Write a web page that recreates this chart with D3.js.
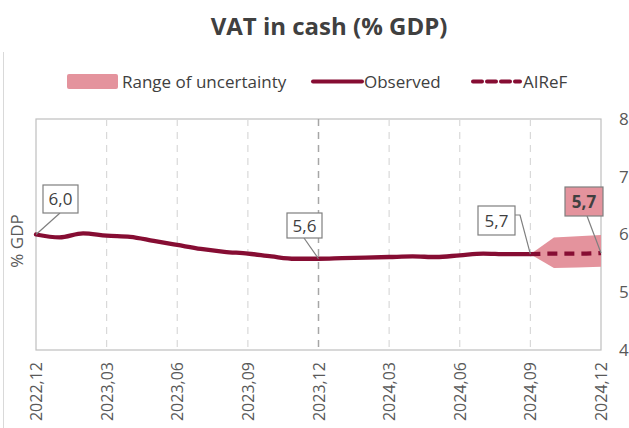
<!DOCTYPE html>
<html><head><meta charset="utf-8">
<script src="https://cdn.jsdelivr.net/npm/d3@7"></script>
<style>body{margin:0;background:#fff;}svg{display:block;font-family:"Open Sans",Lato,sans-serif;}</style>
</head><body>
<svg id="c" width="629" height="428"></svg>
<script>
const months = ["2022,12","2023,01","2023,02","2023,03","2023,04","2023,05","2023,06","2023,07","2023,08","2023,09","2023,10","2023,11","2023,12","2024,01","2024,02","2024,03","2024,04","2024,05","2024,06","2024,07","2024,08","2024,09","2024,10","2024,11","2024,12"];
const tickLabels = ["2022,12","2023,03","2023,06","2023,09","2023,12","2024,03","2024,06","2024,09","2024,12"];
const observed = [6.00,5.95,6.02,5.98,5.96,5.89,5.82,5.75,5.70,5.67,5.62,5.58,5.58,5.59,5.60,5.61,5.62,5.61,5.64,5.67,5.66,5.66];
const forecastMonths = ["2024,09","2024,10","2024,11","2024,12"];
const forecast = [5.66,5.67,5.67,5.68];
const bandLow = [5.66,5.42,5.43,5.44];
const bandHigh = [5.66,5.95,5.97,5.99];
const yTicks = [4,5,6,7,8];
const labels = [
  {m:"2022,12", v:6.00, text:"6,0"},
  {m:"2023,12", v:5.58, text:"5,6"},
  {m:"2024,09", v:5.66, text:"5,7"},
  {m:"2024,12", v:5.68, text:"5,7", forecast:true}
];

const FONT = "'Open Sans',Lato,sans-serif";
const svg = d3.select("#c");
const L=36, R=601, T=119, B=350;
const x = d3.scalePoint().domain(months).range([L,R]);
const y = d3.scaleLinear().domain([4,8]).range([B,T]);
const textCol="#404040", axisCol="#595959";
const lineCol="#860D33", bandCol="#E4939D";

svg.append("line").attr("x1",3.5).attr("x2",3.5).attr("y1",52).attr("y2",428).attr("stroke","#D9D9D9");

svg.append("text").attr("x",329).attr("y",35).attr("text-anchor","middle")
  .attr("font-size",24).attr("font-weight","bold").attr("fill",textCol).text("VAT in cash (% GDP)");

const lg = svg.append("g");
lg.append("rect").attr("x",67).attr("y",74).attr("width",51).attr("height",15).attr("rx",2).attr("fill",bandCol);
lg.append("text").attr("x",122).attr("y",88).attr("font-size",17).attr("fill",textCol).text("Range of uncertainty");
lg.append("line").attr("x1",313).attr("x2",362).attr("y1",81.5).attr("y2",81.5).attr("stroke",lineCol).attr("stroke-width",4).attr("stroke-linecap","round");
lg.append("text").attr("x",364).attr("y",88).attr("font-size",17).attr("fill",textCol).text("Observed");
lg.append("line").attr("x1",473).attr("x2",520).attr("y1",81.5).attr("y2",81.5).attr("stroke",lineCol).attr("stroke-width",4).attr("stroke-dasharray","9,5").attr("stroke-linecap","round");
lg.append("text").attr("x",523).attr("y",88).attr("font-size",17).attr("fill",textCol).text("AIReF");

svg.append("rect").attr("x",L).attr("y",T).attr("width",R-L).attr("height",B-T).attr("fill","none").attr("stroke","#BFBFBF").attr("stroke-width",1.2);

tickLabels.slice(1,-1).forEach(t=>{
  svg.append("line").attr("x1",x(t)).attr("x2",x(t)).attr("y1",T).attr("y2",B)
    .attr("stroke", t==="2023,12" ? "#A6A6A6" : "#D9D9D9").attr("stroke-width", t==="2023,12"?1.5:1.2)
    .attr("stroke-dasharray","7,6");
});

const xa = svg.append("g").attr("transform",`translate(0,${B})`)
  .call(d3.axisBottom(x).tickValues(tickLabels).tickSize(0).tickPadding(0));
xa.select(".domain").remove();
xa.selectAll("text").attr("font-size",16).attr("fill",axisCol).attr("font-family",FONT)
  .attr("transform","rotate(-90)").attr("text-anchor","end").attr("dy","0.35em").attr("x",-12).attr("y",0);

const ya = svg.append("g").attr("transform",`translate(${R},0)`)
  .call(d3.axisRight(y).tickValues(yTicks).tickSize(0).tickPadding(18).tickFormat(d3.format("d")));
ya.select(".domain").remove();
ya.selectAll("text").attr("font-size",17).attr("fill",axisCol).attr("font-family",FONT);

svg.append("text").attr("transform","translate(23,241) rotate(-90)").attr("text-anchor","middle")
  .attr("font-size",17).attr("fill",axisCol).text("% GDP");

const bandData = forecastMonths.map((m,i)=>({m,lo:bandLow[i],hi:bandHigh[i]}));
svg.append("path").datum(bandData).attr("fill",bandCol)
  .attr("d",d3.area().x(d=>x(d.m)).y0(d=>y(d.lo)).y1(d=>y(d.hi)));

const obsData = observed.map((v,i)=>({m:months[i],v}));
svg.append("path").datum(obsData).attr("fill","none").attr("stroke",lineCol).attr("stroke-width",4.3)
  .attr("stroke-linejoin","round").attr("stroke-linecap","round")
  .attr("d",d3.line().x(d=>x(d.m)).y(d=>y(d.v)).curve(d3.curveMonotoneX));

const fData = forecastMonths.map((m,i)=>({m,v:forecast[i]}));
svg.append("path").datum(fData).attr("fill","none").attr("stroke",lineCol).attr("stroke-width",4.3)
  .attr("stroke-dasharray","10,7").attr("stroke-linecap","butt")
  .attr("d",d3.line().x(d=>x(d.m)).y(d=>y(d.v)).curve(d3.curveMonotoneX));

const boxes = [
  {bx:43, by:185, w:35, h:28, leader:[[60,213]]},
  {bx:287, by:213, w:35, h:25, leader:[[304,238]]},
  {bx:478, by:206, w:37, h:29, leader:[[515,215],[520,215]]},
  {bx:565, by:187, w:38, h:29, leader:[[587,216]]}
];
labels.forEach((lb,i)=>{
  const b = boxes[i];
  const px = x(lb.m), py = y(lb.v);
  const pts = b.leader.concat([[px,py]]);
  svg.append("path").attr("d",d3.line()(pts)).attr("fill","none").attr("stroke","#7F7F7F").attr("stroke-width",1.2);
  svg.append("rect").attr("x",b.bx).attr("y",b.by).attr("width",b.w).attr("height",b.h)
    .attr("fill", lb.forecast?bandCol:"#fff").attr("stroke","#7F7F7F").attr("stroke-width",1.2);
  svg.append("text").attr("x",b.bx+b.w/2).attr("y",b.by+b.h/2).attr("dy","0.36em").attr("text-anchor","middle")
    .attr("font-size",17).attr("font-weight",lb.forecast?"bold":"normal").attr("fill",textCol).text(lb.text);
});
</script>
</body></html>
